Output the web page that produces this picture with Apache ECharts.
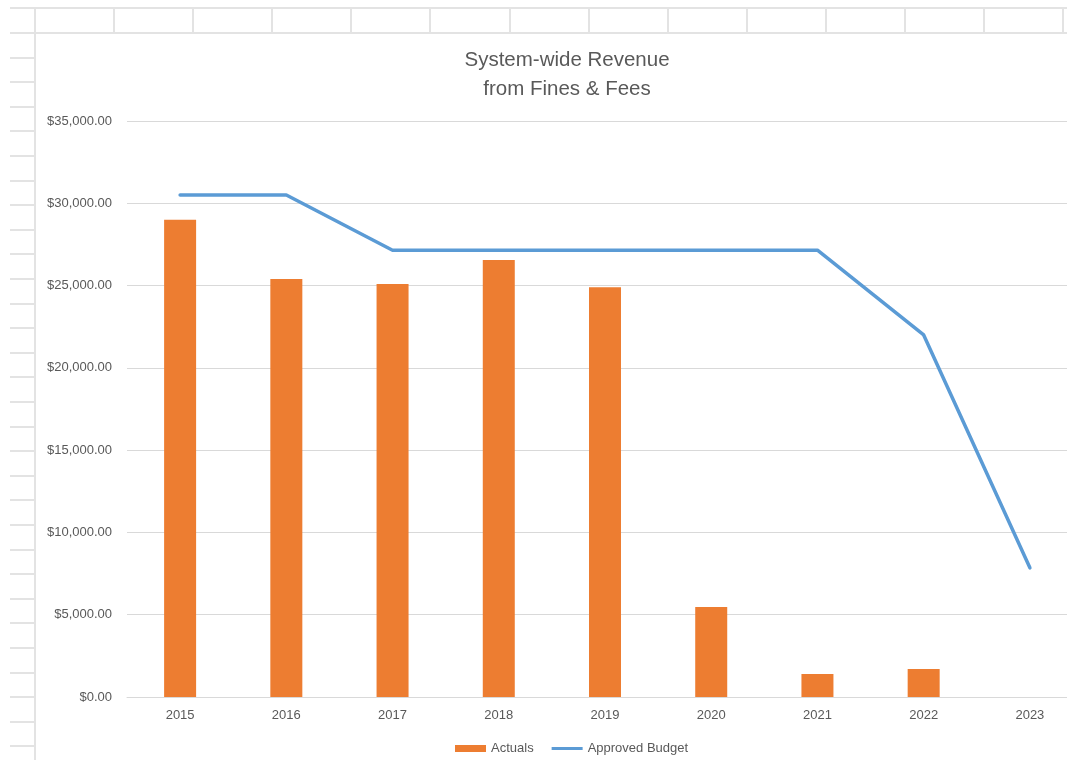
<!DOCTYPE html>
<html>
<head>
<meta charset="utf-8">
<script src="https://cdn.jsdelivr.net/npm/echarts@6/dist/echarts.min.js"></script>
<style>
  html, body { margin: 0; padding: 0; background: #fff; overflow: hidden; }
  #chart { width: 1083px; height: 760px; }
</style>
</head>
<body>
<div id="chart"></div>
<script>
// data
var years = ['2015', '2016', '2017', '2018', '2019', '2020', '2021', '2022', '2023'];
var actuals = [29000, 25400, 25100, 26550, 24900, 5470, 1400, 1700, null];
var approvedBudget = [30500, 30500, 27150, 27150, 27150, 27150, 27150, 22000, 7850];

// chart is a little wider than the window: the screenshot cuts off its right edge
var myChart = echarts.init(document.getElementById('chart'));

// spreadsheet cell lines behind the chart (decoration only)
var sheetLines = [];
var sheetStyle = { stroke: '#e3e3e3', lineWidth: 2 };
sheetLines.push({ type: 'line', shape: { x1: 10, y1: 8, x2: 1083, y2: 8 }, style: sheetStyle, z: -1 });
sheetLines.push({ type: 'line', shape: { x1: 10, y1: 33, x2: 1083, y2: 33 }, style: sheetStyle, z: -1 });
sheetLines.push({ type: 'line', shape: { x1: 35, y1: 8, x2: 35, y2: 760 }, style: sheetStyle, z: -1 });
for (var cx = 114; cx < 1083; cx += 79.1) {
	sheetLines.push({ type: 'line', shape: { x1: Math.round(cx), y1: 8, x2: Math.round(cx), y2: 33 }, style: sheetStyle, z: -1 });
}
for (var ry = 57.6; ry < 760; ry += 24.6) {
	sheetLines.push({ type: 'line', shape: { x1: 10, y1: Math.round(ry), x2: 35, y2: Math.round(ry) }, style: sheetStyle, z: -1 });
}

// flat line icon for the budget legend entry
var lineIcon = 'path://M0,0 L31,0 L31,0 Z M0,2 L31,2 L31,5 L0,5 Z M0,7 L31,7 L31,7 Z';

var option = {
	backgroundColor: '#fff',
	textStyle: { fontFamily: 'Liberation Sans' },
	graphic: sheetLines,
	title: {
		text: 'System-wide Revenue\nfrom Fines & Fees',
		left: 562,
		textAlign: 'center',
		top: 41,
		textStyle: {
			fontFamily: 'Liberation Sans',
			fontSize: 20.5,
			fontWeight: 'normal',
			color: '#595959',
			lineHeight: 29
		}
	},
	legend: {
		bottom: 0,
		left: 450,
		itemGap: 18,
		itemWidth: 31,
		itemHeight: 7,
		textStyle: { fontSize: 13, color: '#595959' },
		data: [
			{ name: 'Actuals', icon: 'rect' },
			{ name: 'Approved Budget', icon: lineIcon }
		]
	},
	grid: {
		left: 127,
		right: 0,
		top: 121,
		bottom: 63,
		containLabel: false
	},
	xAxis: {
		type: 'category',
		data: years,
		axisTick: { show: false },
		axisLine: { lineStyle: { color: '#d9d9d9', width: 1 } },
		axisLabel: { color: '#595959', fontSize: 13, margin: 12 }
	},
	yAxis: {
		type: 'value',
		min: 0,
		max: 35000,
		interval: 5000,
		axisLine: { show: false },
		axisTick: { show: false },
		splitLine: { lineStyle: { color: '#d9d9d9', width: 1 } },
		axisLabel: {
			color: '#595959',
			fontSize: 13,
			margin: 15,
			formatter: function (v) {
				return '$' + v.toLocaleString('en-US', { minimumFractionDigits: 2, maximumFractionDigits: 2 });
			}
		}
	},
	series: [
		{
			name: 'Actuals',
			type: 'bar',
			data: actuals,
			barWidth: 32,
			itemStyle: { color: '#ed7d31' }
		},
		{
			name: 'Approved Budget',
			type: 'line',
			data: approvedBudget,
			symbol: 'none',
			lineStyle: { color: '#5b9bd5', width: 3.5, cap: 'round', join: 'round' },
			itemStyle: { color: '#5b9bd5' }
		}
	]
};

myChart.setOption(option);
</script>
</body>
</html>
